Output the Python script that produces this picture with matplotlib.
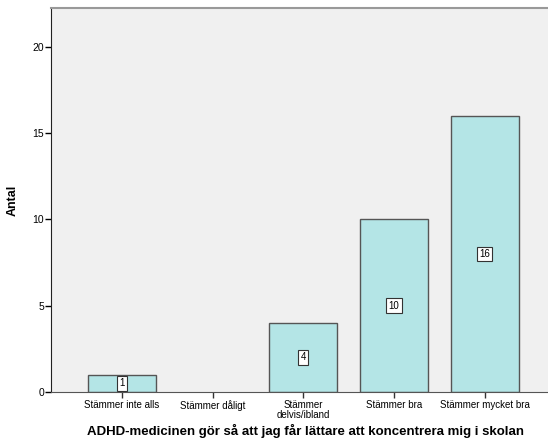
import matplotlib.pyplot as plt
import numpy as np

plt.rcParams['font.family'] = ['Liberation Sans', 'DejaVu Sans']

categories = ["Stämmer inte alls", "Stämmer dåligt", "Stämmer\ndelvis/ibland",
              "Stämmer bra", "Stämmer mycket bra"]
counts = [1, 0, 4, 10, 16]
yticks = [0, 5, 10, 15, 20]

fig = plt.figure(figsize=(5.48, 4.48), dpi=100)
ax = fig.add_axes([51 / 548, 56 / 448, 1 - 51 / 548, 384 / 448])
ax.set_facecolor("#f0f0f0")

x = np.arange(len(categories))
edge_widths = [1 if c > 0 else 0 for c in counts]
ax.bar(x, counts, width=0.75, color="#b4e5e6", edgecolor="#555555", linewidth=edge_widths, zorder=2)

for xi, c in zip(x, counts):
    if c > 0:
        ax.text(xi, c / 2, str(c), ha="center", va="center", fontsize=7, zorder=3,
                bbox=dict(boxstyle="square,pad=0.25", facecolor="white", edgecolor="#333333", linewidth=0.8))

ax.set_xlim(-0.783, 4.70)
ax.set_ylim(0, 22.26)
ax.set_yticks(yticks)
ax.set_xticks(x)
ax.set_xticklabels(categories, fontsize=7, linespacing=0.95)
ax.tick_params(axis="y", labelsize=7.5, length=4, width=1, pad=1)
ax.tick_params(axis="x", length=4, width=1, pad=2, color="#333333")

ax.spines["right"].set_visible(False)
ax.spines["top"].set_color("#999999")
ax.spines["top"].set_linewidth(1.5)
ax.spines["left"].set_color("#222222")
ax.spines["bottom"].set_color("#555555")

ax.set_ylabel("Antal", fontsize=9, fontweight="bold", labelpad=10)
ax.set_xlabel("ADHD-medicinen gör så att jag får lättare att koncentrera mig i skolan",
              fontsize=9.5, fontweight="bold", labelpad=3)
ax.xaxis.label.set_x(0.513)

plt.savefig("out.png", dpi=100)
